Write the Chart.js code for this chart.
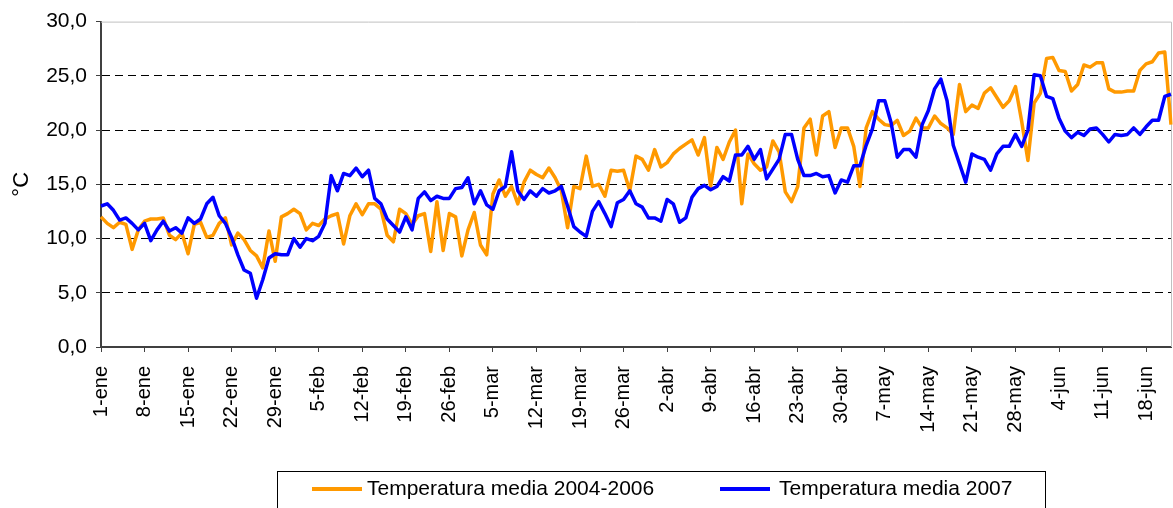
<!DOCTYPE html>
<html lang="es">
<head>
<meta charset="utf-8">
<title>Temperatura media diaria</title>
<script src="https://cdn.jsdelivr.net/npm/chart.js@4/dist/chart.umd.min.js"></script>
<style>
  html, body { margin: 0; padding: 0; background: #fff; }
  #wrap { position: relative; width: 1173px; height: 508px; }
</style>
</head>
<body>
<div id="wrap"><canvas id="chartTemp" width="1173" height="508"></canvas></div>
<script>
// Meses y días (2007, año no bisiesto)
const meses = ['ene', 'feb', 'mar', 'abr', 'may', 'jun'];
const diasMes = [31, 28, 31, 30, 31, 22];

// Temperatura media 2004-2006 (ºC), del 1-ene al 22-jun
const media0406 = [
  12.0, 11.4, 11.0, 11.5, 11.3, 9.0, 10.8, 11.6, 11.8, 11.8,
  11.9, 10.3, 9.9, 10.5, 8.6, 11.3, 11.5, 10.1, 10.3, 11.4,
  11.9, 9.4, 10.5, 9.9, 8.9, 8.4, 7.3, 10.7, 7.9, 12.0,
  12.3, 12.7, 12.3, 10.8, 11.4, 11.2, 11.8, 12.1, 12.3, 9.5,
  12.1, 13.2, 12.2, 13.2, 13.2, 12.7, 10.3, 9.7, 12.7, 12.3,
  11.3, 12.1, 12.3, 8.8, 13.4, 8.9, 12.3, 12.0, 8.4, 10.8,
  12.4, 9.4, 8.5, 14.1, 15.4, 13.9, 14.8, 13.2, 15.2, 16.3,
  15.9, 15.6, 16.5, 15.6, 14.4, 11.0, 14.8, 14.6, 17.6, 14.8,
  15.0, 13.9, 16.3, 16.2, 16.3, 14.4, 17.6, 17.3, 16.3, 18.2,
  16.6, 17.0, 17.8, 18.3, 18.7, 19.1, 17.7, 19.3, 14.8, 18.4,
  17.3, 18.9, 20.0, 13.2, 17.8, 16.9, 16.3, 16.6, 19.0, 18.0,
  14.3, 13.4, 14.8, 20.2, 21.0, 17.7, 21.3, 21.7, 18.4, 20.2,
  20.2, 18.5, 14.8, 20.2, 21.7, 21.0, 20.5, 20.4, 20.9, 19.5,
  19.9, 21.1, 20.2, 20.2, 21.3, 20.6, 20.2, 19.6, 24.2, 21.7,
  22.3, 22.0, 23.4, 23.9, 23.0, 22.1, 22.7, 24.0, 20.8, 17.2,
  22.5, 23.4, 26.6, 26.7, 25.5, 25.4, 23.6, 24.2, 26.0, 25.8,
  26.2, 26.2, 23.8, 23.5, 23.5, 23.6, 23.6, 25.5, 26.1, 26.3,
  27.1, 27.2, 20.5
];

// Temperatura media 2007 (ºC)
const media2007 = [
  13.0, 13.2, 12.6, 11.7, 11.9, 11.4, 10.8, 11.4, 9.8, 10.8,
  11.6, 10.7, 11.0, 10.5, 11.9, 11.4, 11.8, 13.2, 13.8, 12.1,
  11.4, 10.1, 8.5, 7.1, 6.8, 4.5, 6.2, 8.2, 8.6, 8.5,
  8.5, 10.0, 9.2, 10.0, 9.8, 10.2, 11.4, 15.8, 14.4, 16.0,
  15.8, 16.5, 15.7, 16.3, 13.7, 13.2, 11.8, 11.2, 10.6, 12.0,
  10.8, 13.7, 14.3, 13.5, 13.9, 13.7, 13.7, 14.6, 14.7, 15.6,
  13.2, 14.4, 13.1, 12.7, 14.4, 14.8, 18.0, 14.4, 13.6, 14.4,
  13.9, 14.6, 14.2, 14.4, 14.8, 13.0, 11.1, 10.6, 10.2, 12.5,
  13.4, 12.3, 11.1, 13.3, 13.6, 14.4, 13.2, 12.9, 11.9, 11.9,
  11.6, 13.6, 13.2, 11.5, 11.9, 13.8, 14.6, 14.9, 14.5, 14.8,
  15.7, 15.3, 17.7, 17.7, 18.5, 17.3, 18.2, 15.5, 16.4, 17.3,
  19.6, 19.6, 17.3, 15.8, 15.8, 16.0, 15.7, 15.8, 14.2, 15.4,
  15.2, 16.7, 16.7, 18.6, 20.1, 22.7, 22.7, 20.7, 17.5, 18.2,
  18.2, 17.5, 20.5, 21.8, 23.8, 24.7, 22.7, 18.6, 16.9, 15.2,
  17.8, 17.5, 17.3, 16.3, 17.8, 18.5, 18.5, 19.6, 18.5, 20.0,
  25.1, 25.0, 23.1, 22.9, 21.1, 19.9, 19.3, 19.8, 19.5, 20.1,
  20.2, 19.6, 18.9, 19.6, 19.5, 19.6, 20.2, 19.6, 20.3, 20.9,
  20.9, 23.1, 23.3
];

// Etiquetas diarias "1-ene", "2-ene", ...
const fechas = [];
meses.forEach((m, i) => {
  for (let d = 1; d <= diasMes[i]; d++) fechas.push(d + '-' + m);
});

const fuente = 'Arial, "Liberation Sans", sans-serif';

// Borde gris del área de trazado (arriba y derecha)
const plotFrame = {
  id: 'plotFrame',
  beforeDatasetsDraw(chart) {
    const { ctx, chartArea: a } = chart;
    ctx.save();
    ctx.strokeStyle = '#c0c0c0';
    ctx.lineWidth = 1;
    ctx.beginPath();
    ctx.moveTo(a.left, a.top + 0.5);
    ctx.lineTo(a.right + 0.5, a.top + 0.5);
    ctx.lineTo(a.right + 0.5, a.bottom);
    ctx.stroke();
    ctx.restore();
  }
};

// Leyenda con recuadro, como en Excel
const boxLegend = {
  id: 'boxLegend',
  afterDraw(chart) {
    const ctx = chart.ctx;
    const ds = chart.data.datasets;
    const items = [{ x: 312, tx: 367 }, { x: 720, tx: 779 }];
    const y = 489;
    ctx.save();
    ctx.strokeStyle = '#000';
    ctx.lineWidth = 1;
    ctx.strokeRect(277.5, 471.5, 768, 50);
    ctx.font = '21px ' + fuente;
    ctx.textBaseline = 'middle';
    ctx.fillStyle = '#000';
    items.forEach((it, i) => {
      ctx.strokeStyle = ds[i].borderColor;
      ctx.lineWidth = 4;
      ctx.beginPath();
      ctx.moveTo(it.x, y);
      ctx.lineTo(it.x + 50, y);
      ctx.stroke();
      ctx.fillText(ds[i].label, it.tx, y);
    });
    ctx.restore();
  }
};

const ctx = document.getElementById('chartTemp').getContext('2d');
new Chart(ctx, {
  type: 'line',
  data: {
    labels: fechas,
    datasets: [{
      label: 'Temperatura media 2004-2006',
      data: media0406,
      borderColor: '#FF9900',
      backgroundColor: '#FF9900',
      borderWidth: 3.5,
      borderJoinStyle: 'round',
      pointRadius: 0,
      tension: 0,
      fill: false,
      order: 1
    }, {
      label: 'Temperatura media 2007',
      data: media2007,
      borderColor: '#0000FF',
      backgroundColor: '#0000FF',
      borderWidth: 3.5,
      borderJoinStyle: 'round',
      pointRadius: 0,
      tension: 0,
      fill: false,
      order: 0
    }]
  },
  options: {
    responsive: false,
    animation: false,
    devicePixelRatio: 1,
    layout: { padding: { top: 19, right: 2, left: 0, bottom: 0 } },
    plugins: {
      legend: { display: false },
      tooltip: { enabled: false }
    },
    scales: {
      x: {
        afterFit(scale) {
          scale.height = 161;
          scale.paddingLeft = 0;
          scale.paddingRight = 0;
        },
        ticks: {
          autoSkip: false,
          maxRotation: 90,
          minRotation: 90,
          padding: 14,
          color: '#000',
          font: { family: fuente, size: 20 },
          callback: function(value, index) {
            return index % 7 === 0 ? this.getLabelForValue(value) : null;
          }
        },
        grid: { drawOnChartArea: false, tickLength: 5, tickColor: '#404040' },
        border: { color: '#404040', width: 2 }
      },
      y: {
        min: 0,
        max: 30,
        afterFit(scale) { scale.width = 101; },
        ticks: {
          stepSize: 5,
          padding: 9,
          color: '#000',
          font: { family: fuente, size: 21 },
          callback: v => v.toFixed(1).replace('.', ',')
        },
        grid: {
          color: c => (c.tick && c.tick.value > 0 && c.tick.value < 30) ? '#000' : 'rgba(0,0,0,0)',
          lineWidth: 1,
          tickColor: '#404040',
          tickLength: 5,
          tickBorderDash: []
        },
        border: { color: '#404040', width: 2, dash: [8, 5] },
        title: {
          display: true,
          text: '°C',
          color: '#000',
          padding: { top: 9, bottom: 0 },
          font: { family: fuente, size: 22 }
        }
      }
    }
  },
  plugins: [plotFrame, boxLegend]
});
</script>
</body>
</html>
